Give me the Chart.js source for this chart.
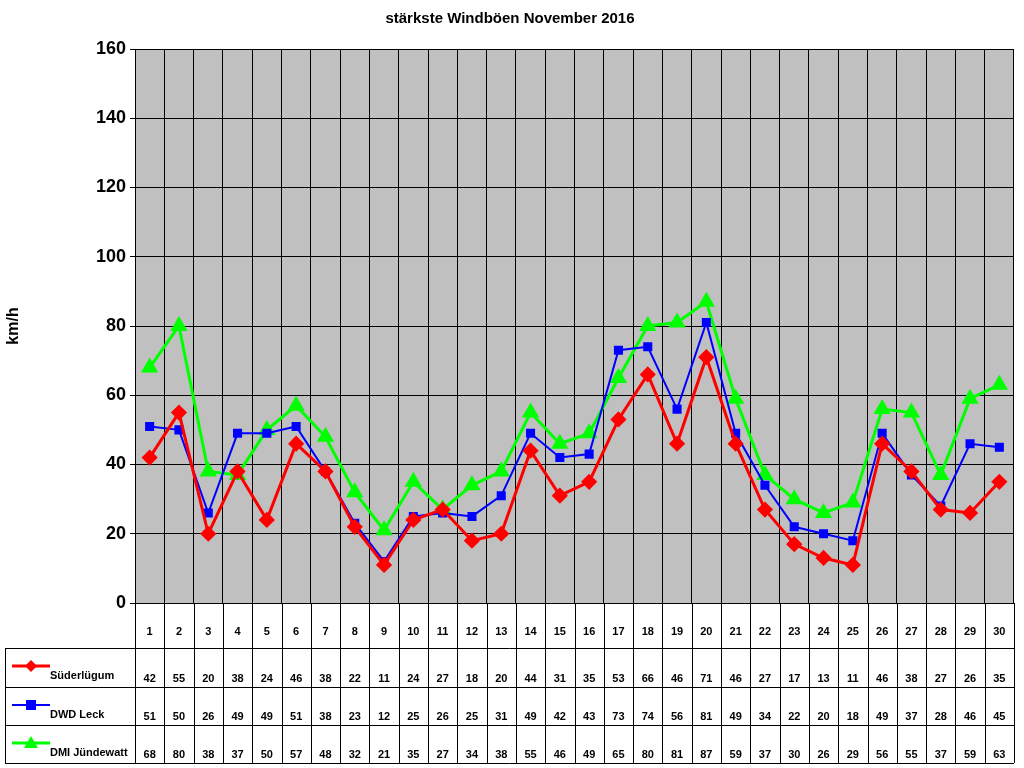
<!DOCTYPE html>
<html>
<head>
<meta charset="utf-8">
<script src="https://cdn.jsdelivr.net/npm/chart.js@4/dist/chart.umd.min.js"></script>
<style>
  html, body { margin: 0; padding: 0; background: #fff; }
  #wrap { width: 1024px; height: 768px; }
</style>
</head>
<body>
<div id="wrap"><canvas id="c" width="1024" height="768"></canvas></div>
<script>
// Tage im November 2016
const days = Array.from({ length: 30 }, (_, i) => String(i + 1));

// stärkste Böen je Station (km/h)
const suederluegum = [42, 55, 20, 38, 24, 46, 38, 22, 11, 24, 27, 18, 20, 44, 31, 35, 53, 66, 46, 71, 46, 27, 17, 13, 11, 46, 38, 27, 26, 35];
const dwdLeck      = [51, 50, 26, 49, 49, 51, 38, 23, 12, 25, 26, 25, 31, 49, 42, 43, 73, 74, 56, 81, 49, 34, 22, 20, 18, 49, 37, 28, 46, 45];
const dmiJuendewatt = [68, 80, 38, 37, 50, 57, 48, 32, 21, 35, 27, 34, 38, 55, 46, 49, 65, 80, 81, 87, 59, 37, 30, 26, 29, 56, 55, 37, 59, 63];

const yTicks = [0, 20, 40, 60, 80, 100, 120, 140, 160];

const FONT = 'Arial, "Liberation Sans", sans-serif';

// grauer Hintergrund des Diagrammbereichs
const plotBg = {
  id: 'plotBg',
  beforeDraw(chart) {
    const { ctx, chartArea: a } = chart;
    ctx.save();
    ctx.fillStyle = '#c0c0c0';
    ctx.fillRect(a.left, a.top, a.right - a.left, a.bottom - a.top);
    ctx.restore();
  }
};

// Datentabelle unter dem Diagramm
const dataTable = {
  id: 'dataTable',
  afterDraw(chart) {
    const { ctx, chartArea: a } = chart;
    const x = chart.scales.x;
    const step = (a.right - a.left) / days.length;
    const rows = [648, 687, 725, 763];
    const top = a.bottom, bottom = 763, legLeft = 5;

    ctx.save();
    ctx.strokeStyle = '#000';
    ctx.lineWidth = 1;
    ctx.beginPath();
    // vertikale Linien
    for (let i = 0; i <= days.length; i++) {
      const xx = Math.round(a.left + i * step) + 0.5;
      ctx.moveTo(xx, top); ctx.lineTo(xx, bottom);
    }
    ctx.moveTo(legLeft + 0.5, rows[0]); ctx.lineTo(legLeft + 0.5, bottom);
    // horizontale Linien
    rows.forEach(r => {
      ctx.moveTo(legLeft, r + 0.5); ctx.lineTo(a.right, r + 0.5);
    });
    ctx.moveTo(a.right + 0.5, top); ctx.lineTo(a.right + 0.5, bottom);
    ctx.stroke();

    ctx.fillStyle = '#000';
    ctx.font = 'bold 11px ' + FONT;
    ctx.textAlign = 'center';
    ctx.textBaseline = 'middle';
    days.forEach((d, i) => ctx.fillText(d, x.getPixelForValue(i), 632));

    chart.data.datasets.forEach((ds, r) => {
      const y = rows[r + 1] - 8;
      ds.data.forEach((v, i) => ctx.fillText(String(v), x.getPixelForValue(i), y));

      // Legendeneintrag
      const ly = rows[r] + 18;
      ctx.strokeStyle = ds.borderColor;
      ctx.lineWidth = ds.borderWidth;
      ctx.beginPath();
      ctx.moveTo(12, ly); ctx.lineTo(50, ly);
      ctx.stroke();
      ctx.fillStyle = ds.backgroundColor;
      ctx.beginPath();
      if (ds.pointStyle === 'rectRot') {
        ctx.moveTo(31, ly - 6); ctx.lineTo(37, ly); ctx.lineTo(31, ly + 6); ctx.lineTo(25, ly);
      } else if (ds.pointStyle === 'rect') {
        ctx.rect(26, ly - 5, 10, 10);
      } else {
        ctx.moveTo(31, ly - 7); ctx.lineTo(38, ly + 5); ctx.lineTo(24, ly + 5);
      }
      ctx.closePath();
      ctx.fill();
      ctx.fillStyle = '#000';
      ctx.textAlign = 'left';
      ctx.fillText(ds.label, 50, ly + 10);
      ctx.textAlign = 'center';
    });
    ctx.restore();
  }
};

new Chart(document.getElementById('c'), {
  type: 'line',
  data: {
    labels: days,
    datasets: [
      {
        label: 'Süderlügum',
        data: suederluegum,
        borderColor: '#ff0000',
        backgroundColor: '#ff0000',
        borderWidth: 3,
        pointStyle: 'rectRot',
        pointRadius: 6,
        tension: 0
      },
      {
        label: 'DWD Leck',
        data: dwdLeck,
        borderColor: '#0000ff',
        backgroundColor: '#0000ff',
        borderWidth: 2,
        pointStyle: 'rect',
        pointRadius: 5,
        tension: 0
      },
      {
        label: 'DMI Jündewatt',
        data: dmiJuendewatt,
        borderColor: '#00ff00',
        backgroundColor: '#00ff00',
        borderWidth: 3,
        pointStyle: 'triangle',
        pointRadius: 7,
        tension: 0
      }
    ]
  },
  options: {
    responsive: false,
    animation: false,
    layout: { padding: { left: 0, right: 4, top: 0, bottom: 165 } },
    plugins: {
      legend: { display: false },
      tooltip: { enabled: false },
      title: {
        display: true,
        text: 'stärkste Windböen November 2016',
        color: '#000',
        font: { family: FONT, size: 15, weight: 'bold' },
        padding: { top: 10, bottom: 21 }
      }
    },
    scales: {
      x: {
        offset: true,
        grid: { color: '#000', offset: true, drawTicks: false },
        border: { color: '#000' },
        ticks: { display: false }
      },
      y: {
        min: 0,
        max: 160,
        afterFit: s => { s.width = 135; },
        afterBuildTicks: s => { s.ticks = yTicks.map(v => ({ value: v })); },
        grid: { color: '#000', drawTicks: true, tickLength: 5 },
        border: { color: '#000' },
        ticks: { color: '#000', font: { family: FONT, size: 18, weight: 'bold' }, padding: 4 },
        title: {
          display: true,
          text: 'km/h',
          color: '#000',
          font: { family: FONT, size: 16, weight: 'bold' },
          padding: { bottom: 40 }
        }
      }
    }
  },
  plugins: [plotBg, dataTable]
});
</script>
</body>
</html>
